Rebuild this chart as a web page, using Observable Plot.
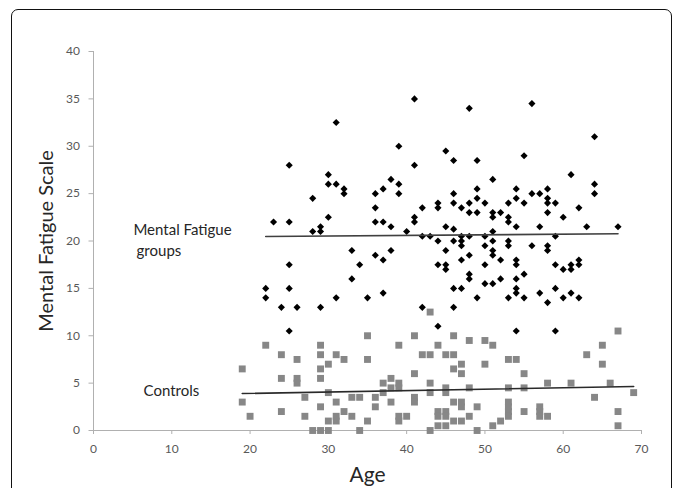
<!DOCTYPE html>
<html>
<head>
<meta charset="utf-8">
<script src="https://cdn.jsdelivr.net/npm/d3@7"></script>
<script src="https://cdn.jsdelivr.net/npm/@observablehq/plot@0.6"></script>
<style>
html, body { margin: 0; padding: 0; background: #fff; }
#wrap { position: relative; width: 681px; height: 488px; overflow: hidden; background: #fff; }
#wrap svg { position: absolute; left: 0; top: 0; }
#box { position: absolute; left: 11px; top: 9px; width: 661px; height: 530px; border: 1.6px solid #111; border-radius: 7px; box-sizing: border-box; pointer-events: none; }
</style>
</head>
<body>
<div id="wrap"></div>
<script>
// Mental Fatigue groups (black diamonds)
const fatigueAge = [
  22,22,23,24,25,25,25,25,25,26,28,28,29,29,29,30,30,30,31,31,31,32,32,33,33,34,35,
  36,36,36,36,37,37,37,37,38,38,38,39,39,39,40,41,41,41,41,42,42,42,43,
  44,44,44,44,44,45,45,45,45,45,46,46,46,46,46,46,46,47,47,47,47,47,47,
  48,48,48,48,48,48,48,49,49,49,49,49,50,50,50,50,50,51,51,51,51,51,51,51,51,
  52,52,52,53,53,53,53,53,53,54,54,54,54,54,54,54,54,54,55,55,55,55,56,56,56,
  57,57,57,58,58,58,58,58,58,58,59,59,59,59,59,60,60,60,61,61,61,61,62,62,62,62,
  63,64,64,64,67
];
const fatigueScore = [
  15,14,22,13,28,22,17.5,15,10.5,13,24.5,21,21.5,21,13,27,26,22.5,32.5,26,14,25.5,25,19,16,17.5,14,
  25,23.5,22,18.5,25.5,22,18,14.5,26.5,21.5,19,30,26,25,21,35,28,22.5,22,23.5,20.5,13,20.5,
  24,23.5,20,17.5,11,29.5,21.5,19,17.5,17,28.5,25,24,21.25,20,15,13,23.5,20.5,20,19.5,18,15,
  34,24,23,20.5,18.5,16.5,16,28.5,25.5,24.5,23,14,24,20.5,19.5,17.5,15.5,26.5,23,22.5,21,20,19,18.5,15.5,
  23,18,16,24,22.5,22,20,19.5,14,25.5,24.5,21.5,18,17.5,16,15,14.5,10.5,29,24,16.5,14,34.5,25,19.5,
  25,21.5,14.5,25.5,24.5,24,23,19.5,19,13.5,24,20.5,17.5,15,10.5,22.5,17,14,27,17.5,17,14.5,23.5,18,17.5,14,
  21.5,31,26,25,21.5
];

// Controls (grey squares)
const controlAge = [
  19,19,20,22,24,24,24,26,26,26,27,27,28,29,29,29,29,29,29,30,30,30,30,31,31,31,31,
  32,32,33,33,34,34,35,35,35,36,36,37,37,38,38,38,39,39,39,39,39,40,41,41,41,41,42,
  43,43,43,43,43,44,44,44,44,45,45,45,45,45,45,46,46,46,46,46,47,47,47,47,47,
  48,48,48,49,49,50,50,51,51,52,53,53,53,53,53,53,54,55,55,55,57,57,57,58,58,
  61,63,64,65,65,66,67,67,67,69
];
const controlScore = [
  6.5,3,1.5,9,8,5.5,2,7.5,5.5,5,3.5,1.5,0,9,8,6.5,5.5,2.5,0,7,4,1,0,8,3,1.5,1,
  7.5,2,3.5,1.5,3.5,0,10,7.5,1,3.5,2.5,5,4,5.5,4.5,3,9,5,4.5,1.5,1,1.5,10,6,3.5,3,8,
  12.5,8,5,4,0,9,2,1.5,0.5,8,4.5,4,2,1.5,0.5,10,8,6.5,3,1,7,6,3,2.5,1,
  9.5,4.5,1.5,2.5,0,9.5,7,9,0.5,1,7.5,4.5,3,2.5,2,1.5,7.5,6,4.5,2,2.5,2,1.5,5,1.5,
  5,8,3.5,9,7,5,10.5,2,0.5,4
];

// Trend lines (end points)
const fatigueTrendAge = [22, 67];
const fatigueTrendScore = [20.47, 20.77];
const controlTrendAge = [19, 69];
const controlTrendScore = [3.9, 4.65];

// Axis ticks
const xTicks = [0, 10, 20, 30, 40, 50, 60, 70];
const yTicks = [0, 5, 10, 15, 20, 25, 30, 35, 40];

// Series annotations
const noteText = ["Mental Fatigue", "groups", "Controls"];
const noteAge = [5.1, 5.5, 6.4];
const noteScore = [21.1, 18.9, 4.1];

const fatigue = fatigueAge.map((a, i) => ({age: a, score: fatigueScore[i]}));
const controls = controlAge.map((a, i) => ({age: a, score: controlScore[i]}));
const fatigueTrend = fatigueTrendAge.map((a, i) => ({age: a, score: fatigueTrendScore[i]}));
const controlTrend = controlTrendAge.map((a, i) => ({age: a, score: controlTrendScore[i]}));
const notes = noteText.map((t, i) => ({text: t, age: noteAge[i], score: noteScore[i]}));

const axisGrey = "#b0b0b0";
const tickText = "#595959";

const chart = Plot.plot({
  width: 681,
  height: 488,
  marginLeft: 93,
  marginRight: 40,
  marginTop: 51,
  marginBottom: 58,
  style: {fontFamily: "Lato, 'Open Sans', sans-serif", fontSize: "12px", background: "transparent", overflow: "visible"},
  x: {domain: [0, 70]},
  y: {domain: [0, 40]},
  marks: [
    Plot.ruleY([0], {stroke: axisGrey, strokeWidth: 1}),
    Plot.ruleX([0], {stroke: axisGrey, strokeWidth: 1}),
    Plot.axisX({ticks: xTicks, tickSize: 4, tickPadding: 10, stroke: axisGrey, fill: tickText, fontSize: 12, label: null}),
    Plot.axisY({ticks: yTicks, tickSize: 4.5, tickPadding: 9, stroke: axisGrey, fill: tickText, fontSize: 12, label: null}),
    Plot.dot(controls, {x: "age", y: "score", symbol: "square", r: 3.9, fill: "#878787", stroke: "none"}),
    Plot.dot(fatigue, {x: "age", y: "score", symbol: "diamond2", r: 3.2, fill: "#000", stroke: "none"}),
    Plot.line(fatigueTrend, {x: "age", y: "score", stroke: "#404040", strokeWidth: 1.6}),
    Plot.line(controlTrend, {x: "age", y: "score", stroke: "#2a2a2a", strokeWidth: 1.6}),
    Plot.text(notes, {x: "age", y: "score", text: "text", textAnchor: "start", fontSize: 15, fill: "#262626"}),
    Plot.text(["Mental Fatigue Scale"], {text: d => d, frameAnchor: "left", textAnchor: "middle", rotate: -90, dx: -47, fontSize: 20, fill: "#262626"}),
    Plot.text(["Age"], {text: d => d, frameAnchor: "bottom", textAnchor: "middle", dy: 51, fontSize: 21, fill: "#262626"})
  ]
});

const wrap = document.getElementById("wrap");
wrap.appendChild(chart);
const box = document.createElement("div");
box.id = "box";
wrap.appendChild(box);
</script>
</body>
</html>
